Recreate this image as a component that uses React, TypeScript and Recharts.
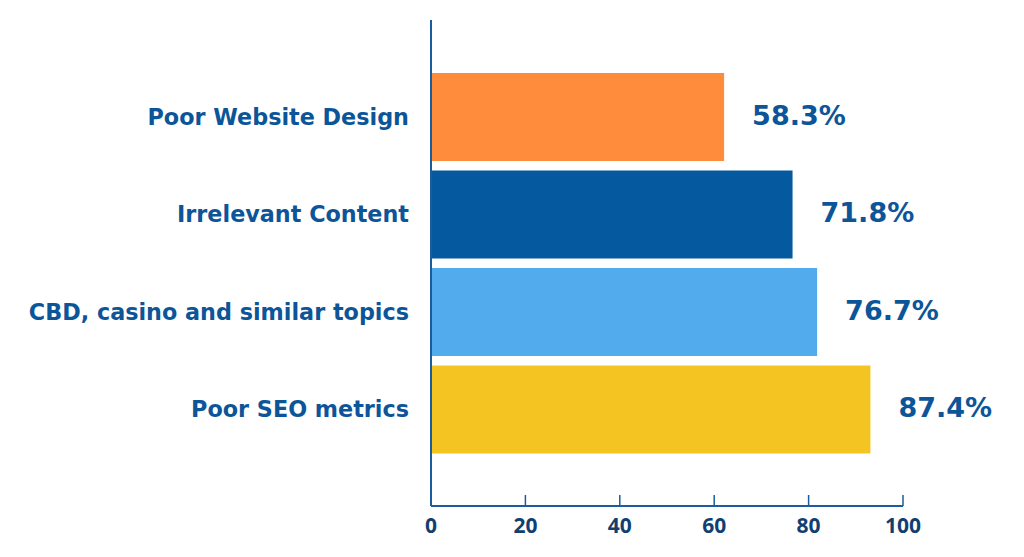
import React from 'react';
import { BarChart, Bar, XAxis, YAxis, Cell, LabelList } from 'recharts';

const categories = ['Poor Website Design', 'Irrelevant Content', 'CBD, casino and similar topics', 'Poor SEO metrics'];
const barValues = [62.1, 76.6, 81.8, 93.1];
const valueLabels = ['58.3%', '71.8%', '76.7%', '87.4%'];
const barColors = ['#FF8C3D', '#055A9F', '#51ABEC', '#F4C522'];
const xTicks = [0, 20, 40, 60, 80, 100];

const data = categories.map((c, i) => ({ name: c, value: barValues[i], label: valueLabels[i] }));

const AXIS = '#1B5C9E';
const TEXT = '#0D5599';

const XTick = (props: any) => {
  const { x, y, payload } = props;
  return (
    <g>
      <line x1={x} x2={x} y1={y - 11} y2={y} stroke={AXIS} strokeWidth={1.5} />
      <text x={x} y={y + 19} textAnchor="middle" dominantBaseline="central"
        fontFamily="'Open Sans', sans-serif" fontWeight={700} fontSize={21} fill="#123F72">
        {payload.value}
      </text>
    </g>
  );
};

const YTick = (props: any) => {
  const { x, y, payload } = props;
  return (
    <text x={x - 22} y={y} textAnchor="end" dominantBaseline="central"
      fontFamily="'DejaVu Sans', sans-serif" fontWeight={700} fontSize={22.3} fill={TEXT}>
      {payload.value}
    </text>
  );
};

const ValueLabel = (props: any) => {
  const { x, y, width, height, value } = props;
  return (
    <text x={x + width + 28} y={y + height / 2 - 2} textAnchor="start" dominantBaseline="central"
      fontFamily="'DejaVu Sans', sans-serif" fontWeight={700} fontSize={27} fill={TEXT}>
      {value}
    </text>
  );
};

export default function App() {
  return (
    <BarChart
      width={1000}
      height={540}
      data={data}
      layout="vertical"
      margin={{ top: 12, right: 105, bottom: 2, left: 0 }}
      barCategoryGap={5}
    >
      <XAxis
        type="number"
        domain={[0, 100]}
        ticks={xTicks}
        axisLine={{ stroke: AXIS, strokeWidth: 2 }}
        tickLine={false}
        tickSize={0}
        tickMargin={0}
        tick={<XTick />}
        height={40}
        interval={0}
      />
      <YAxis
        type="category"
        dataKey="name"
        width={423}
        axisLine={{ stroke: AXIS, strokeWidth: 2 }}
        tickLine={false}
        tickSize={0}
        tickMargin={0}
        tick={<YTick />}
        padding={{ top: 48, bottom: 48 }}
        interval={0}
      />
      <Bar dataKey="value" isAnimationActive={false}>
        {data.map((d, i) => (
          <Cell key={d.name} fill={barColors[i]} />
        ))}
        <LabelList dataKey="label" content={<ValueLabel />} />
      </Bar>
    </BarChart>
  );
}
